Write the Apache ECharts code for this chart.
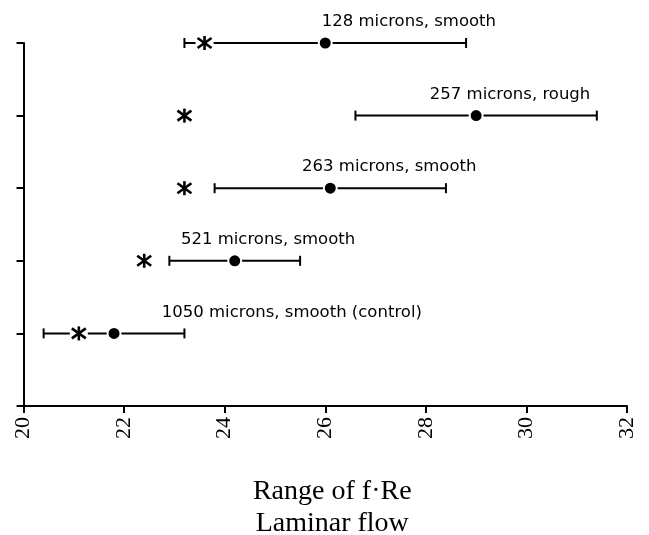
<!DOCTYPE html>
<html>
<head>
<meta charset="utf-8">
<script src="https://cdn.jsdelivr.net/npm/echarts@6/dist/echarts.min.js"></script>
<style>
  html, body { margin: 0; padding: 0; background: #fff; }
  #chart { width: 649px; height: 535px; }
</style>
</head>
<body>
<div id="chart"></div>
<script>
// rows from bottom (1) to top (5)
var rows = [1, 2, 3, 4, 5];
var names = [
  "1050 microns, smooth (control)",
  "521 microns, smooth",
  "263 microns, smooth",
  "257 microns, rough",
  "128 microns, smooth"
];
var meanVals = [21.8, 24.2, 26.1, 29.0, 26.0];
var lowVals = [20.4, 22.9, 23.8, 26.6, 23.2];
var highVals = [23.2, 25.5, 28.4, 31.4, 28.8];
var starVals = [21.1, 22.4, 23.2, 23.2, 23.6];
// where each text label starts (x value)
var labelAt = [22.75, 23.13, 25.54, 28.08, 25.93];
var xTicks = [20, 22, 24, 26, 28, 30, 32];

var chart = echarts.init(document.getElementById("chart"));

var barData = rows.map(function (r, i) { return [lowVals[i], highVals[i], r]; });
var dotData = rows.map(function (r, i) { return [meanVals[i], r]; });
var starData = rows.map(function (r, i) { return [starVals[i], r]; });
var textData = rows.map(function (r, i) { return [labelAt[i], r, names[i]]; });

var option = {
  animation: false,
  grid: { left: 23.5, right: 22, top: 43, bottom: 129, containLabel: false, outerBoundsMode: "none" },
  xAxis: {
    type: "value",
    min: xTicks[0],
    max: xTicks[xTicks.length - 1],
    interval: 2,
    splitLine: { show: false },
    axisLine: { lineStyle: { color: "#000", width: 2 } },
    axisTick: { length: 7, lineStyle: { color: "#000", width: 2 } },
    axisLabel: {
      rotate: 90,
      margin: 11,
      color: "#000",
      fontFamily: "Liberation Serif",
      fontSize: 22
    },
    name: "Range of f\u00b7Re\nLaminar flow",
    nameLocation: "middle",
    nameGap: 70,
    nameTextStyle: {
      color: "#000",
      fontFamily: "Liberation Serif",
      fontSize: 28,
      lineHeight: 32,
      padding: [0, 0, 0, 14]
    }
  },
  yAxis: {
    type: "value",
    min: 0,
    max: 5,
    interval: 1,
    splitLine: { show: false },
    axisLine: { show: true, lineStyle: { color: "#000", width: 2 } },
    axisTick: { show: true, length: 7, lineStyle: { color: "#000", width: 2 } },
    axisLabel: { show: false }
  },
  series: [
    {
      type: "custom",
      data: barData,
      encode: { x: [0, 1], y: 2 },
      renderItem: function (params, api) {
        var a = api.coord([api.value(0), api.value(2)]);
        var b = api.coord([api.value(1), api.value(2)]);
        var st = { stroke: "#000", lineWidth: 2 };
        return {
          type: "group",
          children: [
            { type: "line", shape: { x1: a[0], y1: a[1], x2: b[0], y2: b[1] }, style: st },
            { type: "line", shape: { x1: a[0], y1: a[1] - 5, x2: a[0], y2: a[1] + 5 }, style: st },
            { type: "line", shape: { x1: b[0], y1: b[1] - 5, x2: b[0], y2: b[1] + 5 }, style: st }
          ]
        };
      },
      z: 2
    },
    {
      type: "scatter",
      data: dotData,
      symbol: "circle",
      symbolSize: 13,
      itemStyle: { color: "#000", opacity: 1, borderColor: "#fff", borderWidth: 2 },
      z: 3
    },
    {
      type: "custom",
      data: starData,
      renderItem: function (params, api) {
        var p = api.coord([api.value(0), api.value(1)]);
        var st = { stroke: "#000", lineWidth: 2.6 };
        var x = p[0], y = p[1];
        return {
          type: "group",
          children: [
            { type: "rect", shape: { x: x - 9, y: y - 3, width: 18, height: 6 }, style: { fill: "#fff" } },
            { type: "line", shape: { x1: x, y1: y - 7, x2: x, y2: y + 7 }, style: st },
            { type: "line", shape: { x1: x - 7, y1: y - 5, x2: x + 7, y2: y + 5 }, style: st },
            { type: "line", shape: { x1: x - 7, y1: y + 5, x2: x + 7, y2: y - 5 }, style: st }
          ]
        };
      },
      z: 4
    },
    {
      type: "custom",
      data: textData,
      renderItem: function (params, api) {
        var p = api.coord([api.value(0), api.value(1)]);
        return {
          type: "text",
          x: p[0],
          y: p[1] - 21,
          style: {
            text: textData[params.dataIndex][2],
            fill: "#000",
            font: "16.5px 'DejaVu Sans'",
            textAlign: "left",
            textVerticalAlign: "middle"
          }
        };
      },
      z: 5
    }
  ]
};

chart.setOption(option);
</script>
</body>
</html>
